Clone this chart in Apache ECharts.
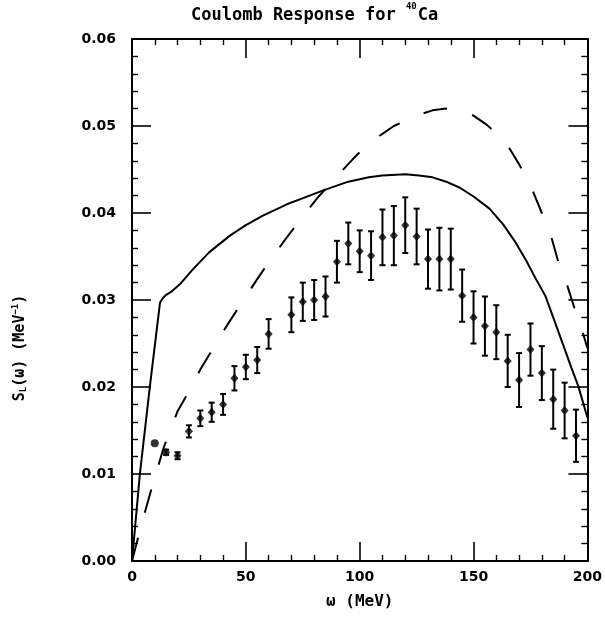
<!DOCTYPE html>
<html>
<head>
<meta charset="utf-8">
<script src="https://cdn.jsdelivr.net/npm/echarts@6/dist/echarts.min.js"></script>
<style>
html,body{margin:0;padding:0;background:#fff;}
#chart{width:605px;height:621px;}
</style>
</head>
<body>
<div id="chart"></div>
<script>
// ---- data ----
const xTicks = [0, 50, 100, 150, 200];
const yTicks = [0.00, 0.01, 0.02, 0.03, 0.04, 0.05, 0.06];

// experimental points (omega in MeV, S_L in MeV^-1, error half-width)
const expOmega = [15, 20, 25, 30, 35, 40, 45, 50, 55, 60, 70, 75, 80, 85, 90, 95, 100, 105, 110, 115, 120, 125, 130, 135, 140, 145, 150, 155, 160, 165, 170, 175, 180, 185, 190, 195];
const expValue = [0.0125, 0.0121, 0.0149, 0.0164, 0.0171, 0.0180, 0.0210, 0.0223, 0.0231, 0.0261, 0.0283, 0.0298, 0.0300, 0.0304, 0.0344, 0.0365, 0.0356, 0.0351, 0.0372, 0.0374, 0.0386, 0.0373, 0.0347, 0.0347, 0.0347, 0.0305, 0.0280, 0.0270, 0.0263, 0.0230, 0.0208, 0.0243, 0.0216, 0.0186, 0.0173, 0.0144];
const expError = [0.0003, 0.0004, 0.0007, 0.0009, 0.0011, 0.0012, 0.0014, 0.0014, 0.0015, 0.0017, 0.0020, 0.0022, 0.0023, 0.0023, 0.0024, 0.0024, 0.0024, 0.0028, 0.0032, 0.0034, 0.0032, 0.0032, 0.0034, 0.0036, 0.0035, 0.0030, 0.0030, 0.0034, 0.0031, 0.0030, 0.0031, 0.0030, 0.0031, 0.0034, 0.0032, 0.0030];

// single filled-circle point
const circleOmega = [10];
const circleValue = [0.01353];

// solid theory curve
const solidOmega = [0, 3.5, 8, 12.3, 13.5, 15, 17, 21, 27, 34, 43, 50, 57.5, 68, 76, 84, 95, 104, 110, 120, 126, 132, 138, 144, 150, 157, 163, 168, 173, 177, 181.5, 185, 189, 193, 196, 200];
const solidValue = [0, 0.0101, 0.0204, 0.0297, 0.0302, 0.0306, 0.0309, 0.0318, 0.0336, 0.0355, 0.0374, 0.0386, 0.0397, 0.0410, 0.0418, 0.0426, 0.0436, 0.0441, 0.0443, 0.04445, 0.0443, 0.0441, 0.0436, 0.0429, 0.0419, 0.0405, 0.0387, 0.0368, 0.0346, 0.0326, 0.0305, 0.0280, 0.0251, 0.0222, 0.0201, 0.0165];

// dashed theory curve
const dashOmega = [0, 2, 5, 9, 14, 20, 25, 30, 36, 42, 48, 55, 61, 68, 75, 82, 90, 97, 104, 110, 115, 125, 132, 138, 143, 150, 156, 164, 170, 175, 180, 184, 187, 191, 195, 198, 200];
const dashValue = [0, 0.0020, 0.0050, 0.0087, 0.0131, 0.0172, 0.0195, 0.0220, 0.0246, 0.0272, 0.0296, 0.0324, 0.0347, 0.0372, 0.0396, 0.0419, 0.0442, 0.0462, 0.0480, 0.0491, 0.0500, 0.0512, 0.0518, 0.0520, 0.0519, 0.0512, 0.0501, 0.0482, 0.0456, 0.0432, 0.0400, 0.0374, 0.0346, 0.0318, 0.0285, 0.0262, 0.0245];

// ---- chart ----
const zip = (a, b) => a.map((v, i) => [v, b[i]]);
const black = '#000';
const tickFont = { fontFamily: 'DejaVu Sans', fontWeight: 'bold', fontSize: 14, color: black };
const monoFont = 'DejaVu Sans Mono';

function axisCommon(pos) {
  return {
    type: 'value',
    position: pos,
    axisLine: { show: true, onZero: false, lineStyle: { color: black, width: 2 } },
    axisTick: { show: true, inside: true, length: 19, lineStyle: { color: black, width: 1.6 } },
    minorTick: { show: true, splitNumber: 5, length: 6, lineStyle: { color: black, width: 1.4 } },
    splitLine: { show: false },
    minorSplitLine: { show: false },
    axisLabel: { show: false }
  };
}

const chart = echarts.init(document.getElementById('chart'), null, { renderer: 'canvas' });
const option = {
  backgroundColor: '#fff',
  animation: false,
  title: {
    text: '{a|Coulomb Response for }{s|40}{a|Ca}',
    left: 186,
    top: -3,
    textStyle: {
      rich: {
        a: { fontFamily: monoFont, fontWeight: 'bold', fontSize: 17, color: black, verticalAlign: 'bottom', lineHeight: 22 },
        s: { fontFamily: monoFont, fontWeight: 'bold', fontSize: 9, color: black, verticalAlign: 'top', lineHeight: 22, padding: [0, 1, 8, 0] }
      }
    }
  },
  grid: { left: 132, right: 17, top: 39, bottom: 60 },
  xAxis: [
    Object.assign(axisCommon('bottom'), {
      min: xTicks[0], max: xTicks[xTicks.length - 1], interval: xTicks[1] - xTicks[0],
      axisLabel: Object.assign({ show: true, margin: 9 }, tickFont),
      name: '{a|ω (MeV)}',
      nameLocation: 'middle',
      nameGap: 33,
      nameTextStyle: { rich: { a: { fontFamily: monoFont, fontWeight: 'bold', fontSize: 16, color: black } } }
    }),
    Object.assign(axisCommon('top'), {
      min: xTicks[0], max: xTicks[xTicks.length - 1], interval: xTicks[1] - xTicks[0]
    })
  ],
  yAxis: [
    Object.assign(axisCommon('left'), {
      min: yTicks[0], max: yTicks[yTicks.length - 1], interval: 0.01,
      axisLabel: Object.assign({ show: true, margin: 16, formatter: v => v.toFixed(2) }, tickFont)
    }),
    Object.assign(axisCommon('right'), {
      min: yTicks[0], max: yTicks[yTicks.length - 1], interval: 0.01
    })
  ],
  graphic: [{
    type: 'text',
    x: 20,
    y: 348,
    rotation: Math.PI / 2,
    style: {
      text: '{a|S}{b|L}{a|(ω) (MeV}{c|−1}{a|)}',
      align: 'center',
      verticalAlign: 'middle',
      rich: {
        a: { fontFamily: monoFont, fontWeight: 'bold', fontSize: 15, fill: black, color: black },
        b: { fontFamily: monoFont, fontWeight: 'bold', fontSize: 9, fill: black, color: black, padding: [8, 0, 0, 0] },
        c: { fontFamily: monoFont, fontWeight: 'bold', fontSize: 9, fill: black, color: black, padding: [0, 0, 8, 0] }
      }
    }
  }],
  series: [
    {
      type: 'line',
      data: zip(solidOmega, solidValue),
      showSymbol: false,
      smooth: false,
      lineStyle: { color: black, width: 2 },
      z: 3
    },
    {
      type: 'line',
      data: zip(dashOmega, dashValue),
      showSymbol: false,
      smooth: false,
      lineStyle: { color: black, width: 2, type: [24, 26], dashOffset: 0 },
      z: 3
    },
    {
      type: 'custom',
      data: expOmega.map((x, i) => [x, expValue[i] - expError[i], expValue[i] + expError[i]]),
      encode: { x: 0, y: [1, 2] },
      renderItem: function (params, api) {
        const x = api.value(0);
        const lo = api.coord([x, api.value(1)]);
        const hi = api.coord([x, api.value(2)]);
        const w = 3;
        const st = { stroke: black, lineWidth: 2 };
        return {
          type: 'group',
          children: [
            { type: 'line', shape: { x1: lo[0], y1: lo[1], x2: hi[0], y2: hi[1] }, style: st },
            { type: 'line', shape: { x1: lo[0] - w, y1: lo[1], x2: lo[0] + w, y2: lo[1] }, style: st },
            { type: 'line', shape: { x1: hi[0] - w, y1: hi[1], x2: hi[0] + w, y2: hi[1] }, style: st }
          ]
        };
      },
      z: 4
    },
    {
      type: 'scatter',
      data: zip(expOmega, expValue),
      symbol: 'diamond',
      symbolSize: [8, 9],
      itemStyle: { color: black },
      z: 5
    },
    {
      type: 'scatter',
      data: zip(circleOmega, circleValue),
      symbol: 'circle',
      symbolSize: 8,
      itemStyle: { color: black },
      z: 5
    }
  ]
};
chart.setOption(option);
</script>
</body>
</html>
